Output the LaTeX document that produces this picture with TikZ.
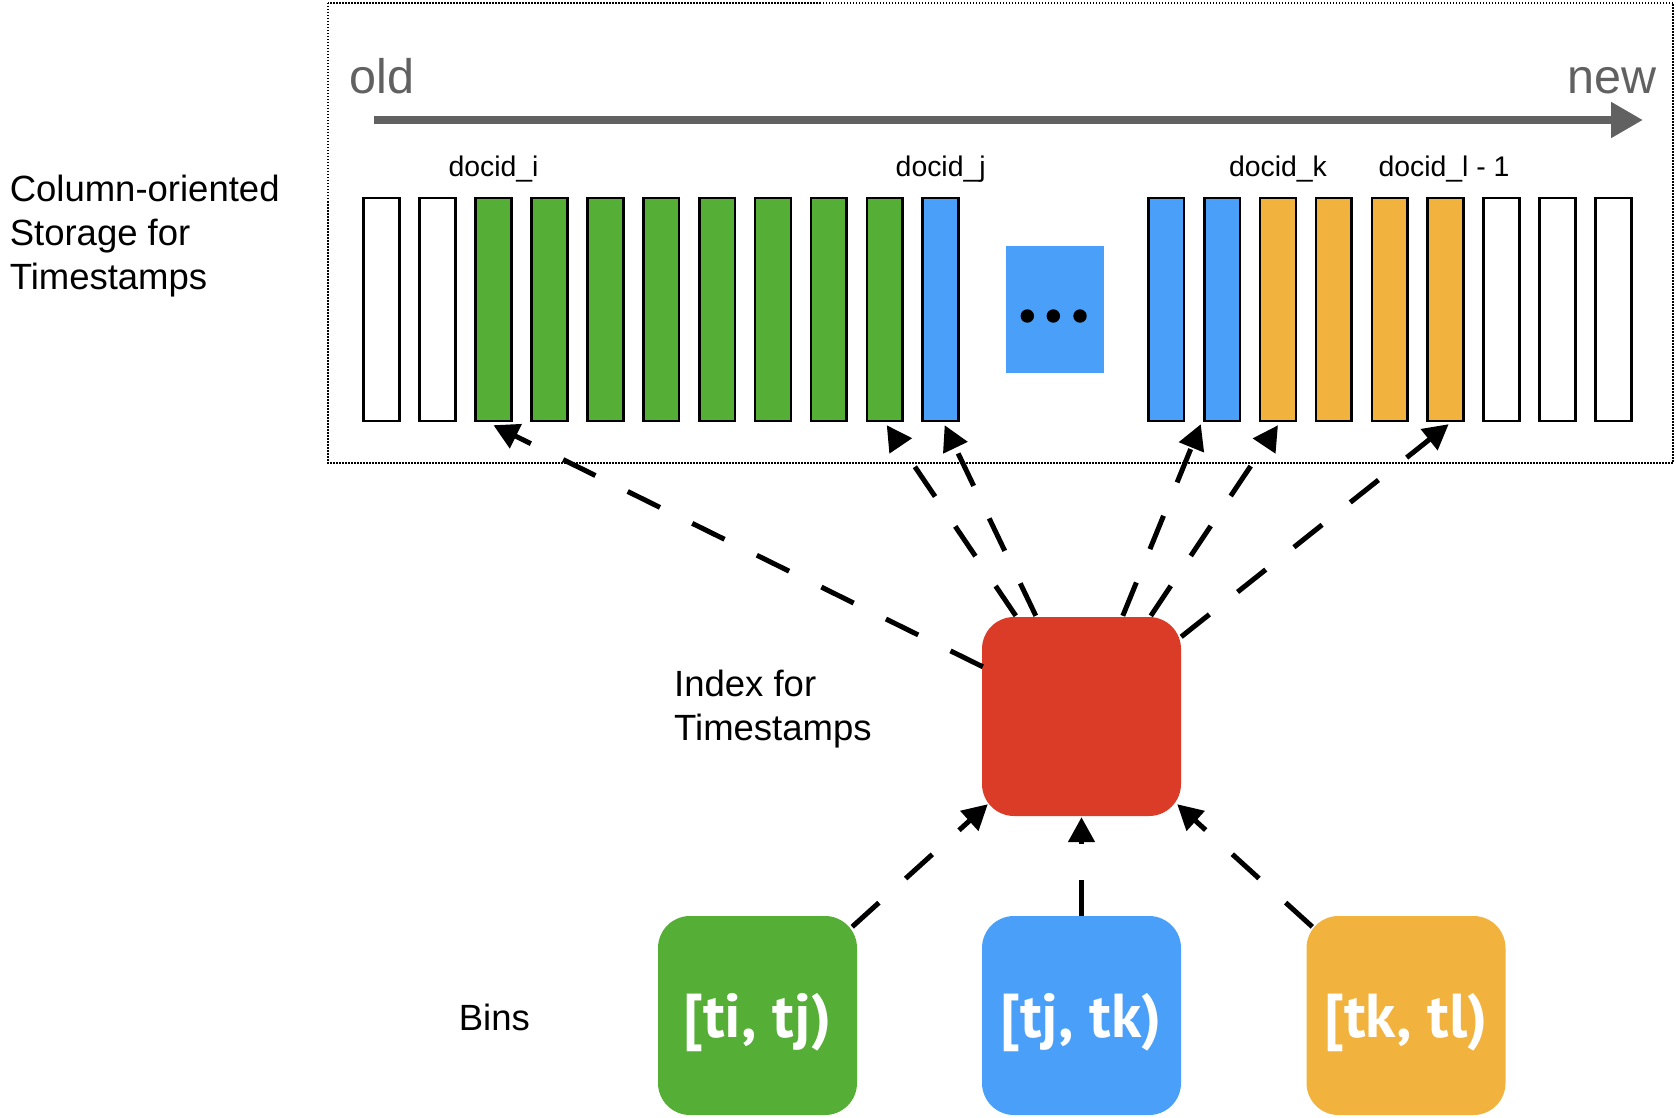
\documentclass[tikz,border=0pt]{standalone}
\usepackage{fontspec}
\setmainfont{Liberation Sans}
\newfontfamily\binfont{PT Sans}
\usetikzlibrary{arrows.meta,calc}
\definecolor{cgreen}{RGB}{85,174,53}
\definecolor{cblue}{RGB}{74,160,248}
\definecolor{corange}{RGB}{241,178,62}
\definecolor{cred}{RGB}{218,60,40}
\definecolor{cgray}{RGB}{97,97,97}
\newcommand{\binlabel}[1]{\raisebox{-7pt}[\height][\depth]{#1}}
\begin{document}
\begin{tikzpicture}[x=1pt,y=-1pt,
  frame/.style={draw=black, line width=1.5pt, dash pattern=on 1.5pt off 1.5pt},
  timeline/.style={draw=cgray, line width=8pt, -{Triangle[length=32pt,width=34pt]}},
  bar/.style={draw=black, line width=2.7pt, minimum width=35.8pt, minimum height=222.8pt, inner sep=0pt},
  lab/.style={inner sep=0pt, anchor=base, font=\fontsize{28.4}{34}\selectfont},
  bigtext/.style={inner sep=0pt, font=\fontsize{36.5}{44}\selectfont, align=left},
  rbox/.style={minimum width=199pt, minimum height=199pt, rounded corners=32pt, inner sep=0pt},
  bintext/.style={text=white, font=\binfont\bfseries\fontsize{62}{70}\selectfont},
  conn/.style={draw=black, line width=5pt, dash pattern=on 36pt off 36pt, -{Triangle[length=25pt,width=26pt]}}
]
\useasboundingbox (0,0) rectangle (1676,1118);

% storage frame
\draw[frame] (328,3) rectangle (1673,463);

% timeline
\node[inner sep=0pt, anchor=base west, text=cgray, font=\fontsize{48.5}{56}\selectfont] (old) at (349.5,94) {old};
\node[inner sep=0pt, anchor=base east, text=cgray, font=\fontsize{48.5}{56}\selectfont] (new) at (1657,94) {new};
\coordinate (tlstart) at (374,120);
\coordinate (tlend) at (1643,120);
\draw[timeline] (tlstart) -- (tlend);

% bars, left group
\foreach \i/\c in {0/white,1/white,2/cgreen,3/cgreen,4/cgreen,5/cgreen,6/cgreen,7/cgreen,8/cgreen,9/cgreen,10/cblue}
  \node[bar, fill=\c] (b\i) at ({381.65+55.9*\i},309.45) {};
% bars, right group
\foreach \j/\c in {0/cblue,1/cblue,2/corange,3/corange,4/corange,5/corange,6/white,7/white,8/white}
  \node[bar, fill=\c] (c\j) at ({1166.15+55.9*\j},309.45) {};

% ellipsis box
\node[fill=cblue, minimum width=98pt, minimum height=127pt, inner sep=0pt] (dots) at (1055,309.5) {};
\fill[black] ($(dots.center)+(-27.7,6.5)$) circle (6.7);
\fill[black] ($(dots.center)+(-1.7,6.5)$) circle (6.7);
\fill[black] ($(dots.center)+(25,6.5)$) circle (6.7);

% docid labels
\node[lab] (li) at (493.5,176.5) {docid\_i};
\node[lab] (lj) at (940.7,176.5) {docid\_j};
\node[lab] (lk) at (1278,176.5) {docid\_k};
\node[lab] (ll) at (1444,176.5) {docid\_l - 1};

% side texts (base anchor = baseline of the last line)
\node[bigtext, anchor=base west] (colst) at (9.6,289) {Column-oriented\\Storage for\\Timestamps};
\node[bigtext, anchor=base west] (idxt) at (674,740) {Index for\\Timestamps};
\node[bigtext, anchor=base west] (binst) at (458.6,1030) {Bins};

% index and bins
\node[rbox, fill=cred] (red) at (1081.5,716.5) {};
\node[rbox, fill=cgreen, bintext] (gbin) at (757.5,1015.5) {\binlabel{[ti, tj)}};
\node[rbox, fill=cblue, bintext] (bbin) at (1081.5,1015.5) {\binlabel{[tj, tk)}};
\node[rbox, fill=corange, bintext] (obin) at (1406,1015.5) {\binlabel{[tk, tl)}};

% index -> storage
\draw[conn] ($(red.north west)+(1,50)$) -- ($(b2.south)+(0,3)$);
\draw[conn] ($(red.north west)+(34,-1)$) -- ($(b9.south)+(2,3)$);
\draw[conn] ($(red.north west)+(54,-1)$) -- ($(b10.south)+(4,3)$);
\draw[conn] ($(red.north west)+(141,-1)$) -- ($(c1.south west)+(-2,2)$);
\draw[conn] ($(red.north west)+(169,-1)$) -- ($(c2.south)+(0,3)$);
\draw[conn] ($(red.north east)+(0,20)$) -- ($(c5.south)+(3,2)$);

% bins -> index
\draw[conn] ($(gbin.north east)+(-5,11)$) -- ($(red.south west)+(6,-12)$);
\draw[conn] (bbin.north) -- ($(red.south)+(0,1)$);
\draw[conn] ($(obin.north west)+(6,11)$) -- ($(red.south east)+(-4,-12)$);
\end{tikzpicture}
\end{document}
